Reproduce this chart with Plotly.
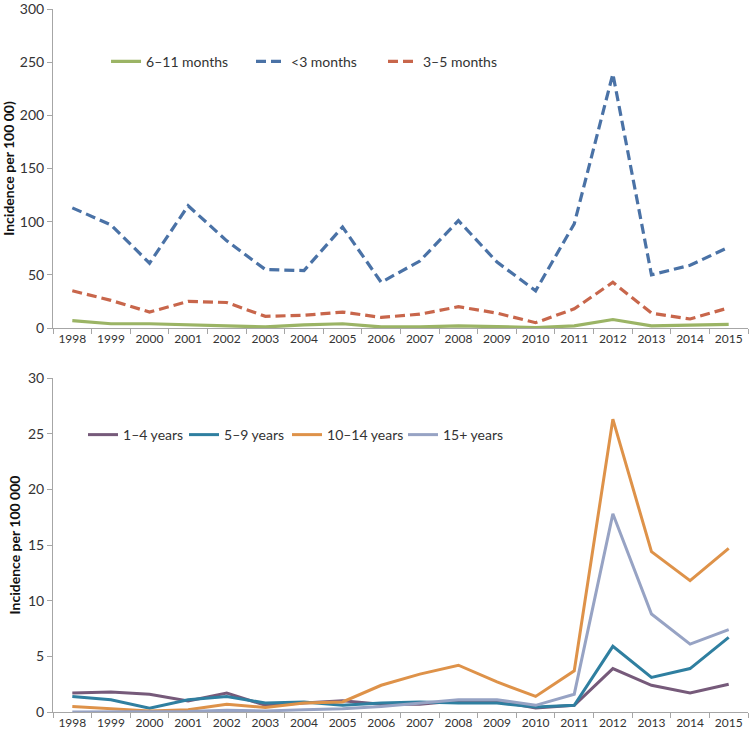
import plotly.graph_objects as go
from plotly.subplots import make_subplots

years = [str(y) for y in range(1998, 2016)]

# Top panel (infants), incidence per 100 000
m6_11 = [7, 4, 4, 3, 2, 1, 3, 4, 1, 1, 2, 1, 0.5, 2, 8, 2, 3, 3.5]
lt3 = [113, 97, 61, 115, 82, 55, 54, 95, 43, 63, 101, 62, 35, 98, 239, 50, 59, 76]
m3_5 = [35, 26, 15, 25, 24, 11, 12, 15, 10, 13, 20, 14, 5, 18, 43, 14, 8.5, 19]

# Bottom panel (children and adults)
y1_4 = [1.7, 1.8, 1.6, 1.0, 1.7, 0.6, 0.8, 1.0, 0.7, 0.7, 1.0, 1.0, 0.35, 0.6, 3.9, 2.4, 1.7, 2.5]
y5_9 = [1.4, 1.1, 0.35, 1.1, 1.4, 0.8, 0.9, 0.6, 0.8, 0.9, 0.8, 0.8, 0.45, 0.6, 5.9, 3.1, 3.9, 6.7]
y10_14 = [0.5, 0.3, 0.1, 0.2, 0.7, 0.4, 0.8, 0.9, 2.4, 3.4, 4.2, 2.7, 1.4, 3.7, 26.3, 14.4, 11.8, 14.7]
y15p = [0.0, 0.0, 0.05, 0.05, 0.15, 0.1, 0.2, 0.3, 0.5, 0.8, 1.1, 1.1, 0.6, 1.6, 17.8, 8.8, 6.1, 7.4]

FONT = "Lato"
AX = "#A6A6A6"
TXT = "#333333"

fig = make_subplots(rows=2, cols=1, vertical_spacing=0.07)
fig.update_yaxes(domain=[0.5462, 1.0], row=1, col=1)
fig.update_yaxes(domain=[0.0, 0.4751], row=2, col=1)

top = [("6–11 months", m6_11, "#9BB465", "solid"),
       ("<3 months", lt3, "#4A72A6", "10px,5px"),
       ("3–5 months", m3_5, "#C8664B", "10px,5px")]
top_leg_x = [0.0763, 0.2849, 0.4748]
bottom = [("1–4 years", y1_4, "#765A7A"),
          ("5–9 years", y5_9, "#2F7FA0"),
          ("10–14 years", y10_14, "#DE9249"),
          ("15+ years", y15p, "#97A3C4")]
bot_leg_x = [0.0432, 0.1885, 0.3367, 0.5036]

legends = {}
k = 1
for (name, vals, col, dash), lx in zip(top, top_leg_x):
    key = "legend" if k == 1 else f"legend{k}"
    fig.add_trace(go.Scatter(x=years, y=vals, name=name, mode="lines",
                             line=dict(color=col, width=3.2, dash=dash),
                             legend=key, showlegend=True), row=1, col=1)
    legends[key] = dict(x=lx, y=0.925, xanchor="left", yanchor="middle",
                        orientation="h", bgcolor="rgba(0,0,0,0)", visible=True,
                        font=dict(family=FONT, size=14, color=TXT))
    k += 1
for (name, vals, col), lx in zip(bottom, bot_leg_x):
    key = f"legend{k}"
    fig.add_trace(go.Scatter(x=years, y=vals, name=name, mode="lines",
                             line=dict(color=col, width=3),
                             legend=key, showlegend=True), row=2, col=1)
    legends[key] = dict(x=lx, y=0.394, xanchor="left", yanchor="middle",
                        orientation="h", bgcolor="rgba(0,0,0,0)", visible=True,
                        font=dict(family=FONT, size=14, color=TXT))
    k += 1

xcommon = dict(type="category", range=[-0.5, 17.5], tickson="boundaries",
               showline=True, linecolor=AX, linewidth=1, ticks="outside",
               ticklen=5, tickcolor=AX, showgrid=False, zeroline=False,
               automargin=False,
               tickfont=dict(family=FONT, size=12, color=TXT))
fig.update_xaxes(**xcommon)

ycommon = dict(showline=True, linecolor=AX, linewidth=1, ticks="outside",
               ticklen=5, tickcolor=AX, showgrid=False, zeroline=False,
               automargin=False, ticklabeloverflow="allow",
               tickfont=dict(family=FONT, size=14, color=TXT))
fig.update_yaxes(range=[0, 300], tickvals=[0, 50, 100, 150, 200, 250, 300],
                 row=1, col=1, **ycommon,
                 title=dict(text="<b>Incidence per 100 00)</b>",
                            font=dict(family=FONT, size=14, color="#111111"),
                            standoff=4))
fig.update_yaxes(range=[0, 30], dtick=5, row=2, col=1, **ycommon,
                 title=dict(text="<b>Incidence per 100 000</b>",
                            font=dict(family=FONT, size=14, color="#111111"),
                            standoff=4))

fig.update_layout(
    width=752, height=734,
    margin=dict(l=53, r=4, t=9, b=22),
    paper_bgcolor="white", plot_bgcolor="white",
    font=dict(family=FONT, color=TXT),
    showlegend=True,
    **legends,
)

fig.write_html("out.html", config={"displayModeBar": False},
               post_script="document.body.style.margin='0px';")
